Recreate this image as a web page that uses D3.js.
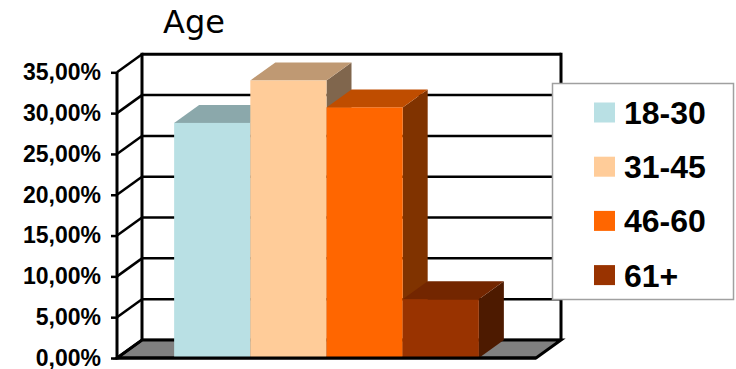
<!DOCTYPE html>
<html>
<head>
<meta charset="utf-8">
<script src="https://cdn.jsdelivr.net/npm/d3@7"></script>
<style>
  html, body { margin: 0; padding: 0; background: #fff; }
  svg { display: block; }
</style>
</head>
<body>
<svg id="chart" width="736" height="369"></svg>
<script>
// Age distribution of respondents (share of total, %)
const categories = ["18-30", "31-45", "46-60", "61+"];
const shares = [28.8, 34.0, 30.7, 7.2];
const tickValues = [0, 5, 10, 15, 20, 25, 30, 35];
const tickLabels = ["0,00%", "5,00%", "10,00%", "15,00%", "20,00%", "25,00%", "30,00%", "35,00%"];
const frontColors = ["#B9E0E4", "#FFCC99", "#FF6600", "#993300"];

const svg = d3.select("#chart");

// plot box (front plane) and depth offset of the 3D box
const plotLeft = 117, plotRight = 536, plotTop = 72.3, plotBottom = 358;
const depth = { dx: 25, dy: -18 };

const y = d3.scaleLinear().domain([0, 35]).range([plotBottom, plotTop]);
const x = d3.scaleBand().domain(categories).range([plotLeft, plotRight])
  .paddingInner(0).paddingOuter(0.75);

const shade = (c, k) => {
  const rgb = d3.rgb(c);
  return d3.rgb(rgb.r * k, rgb.g * k, rgb.b * k).formatHex();
};
const pts = arr => arr.map(p => p.join(",")).join(" ");

// back wall gridlines
const back = svg.append("g");
back.selectAll("line.grid").data(tickValues).join("line")
  .attr("x1", plotLeft + depth.dx).attr("x2", plotRight + depth.dx)
  .attr("y1", d => y(d) + depth.dy).attr("y2", d => y(d) + depth.dy)
  .attr("stroke", "#000").attr("stroke-width", d => d === 35 ? 3 : 2.5);
// back wall right edge
back.append("line")
  .attr("x1", plotRight + depth.dx).attr("x2", plotRight + depth.dx)
  .attr("y1", y(35) + depth.dy - 1.5).attr("y2", y(0) + depth.dy)
  .attr("stroke", "#000").attr("stroke-width", 3);
// back wall left edge
back.append("line")
  .attr("x1", plotLeft + depth.dx).attr("x2", plotLeft + depth.dx)
  .attr("y1", y(35) + depth.dy - 1.5).attr("y2", y(0) + depth.dy)
  .attr("stroke", "#000").attr("stroke-width", 3);

// floor
svg.append("polygon")
  .attr("points", pts([
    [plotLeft, y(0)], [plotLeft + depth.dx, y(0) + depth.dy],
    [plotRight + depth.dx, y(0) + depth.dy], [plotRight, y(0)]
  ]))
  .attr("fill", "#808080").attr("stroke", "#000").attr("stroke-width", 3)
  .attr("stroke-linejoin", "miter");

// side wall diagonals at each tick
svg.append("g").selectAll("line").data(tickValues).join("line")
  .attr("x1", plotLeft).attr("y1", d => y(d))
  .attr("x2", plotLeft + depth.dx).attr("y2", d => y(d) + depth.dy)
  .attr("stroke", "#000").attr("stroke-width", 2.5);

// bars: side, top, front
const bars = svg.append("g").selectAll("g").data(categories).join("g");
bars.each(function (c, i) {
  const g = d3.select(this);
  const x0 = x(c), x1 = x(c) + x.bandwidth();
  const yt = y(shares[i]), yb = y(0);
  const col = frontColors[i];
  g.append("polygon")
    .attr("points", pts([[x1, yt], [x1 + depth.dx, yt + depth.dy], [x1 + depth.dx, yb + depth.dy], [x1, yb]]))
    .attr("fill", shade(col, 0.5));
  g.append("polygon")
    .attr("points", pts([[x0, yt], [x0 + depth.dx, yt + depth.dy], [x1 + depth.dx, yt + depth.dy], [x1, yt]]))
    .attr("fill", shade(col, 0.75));
  g.append("rect")
    .attr("x", x0).attr("y", yt).attr("width", x1 - x0).attr("height", yb - yt)
    .attr("fill", col);
});

// front baseline and value axis
svg.append("line")
  .attr("x1", plotLeft).attr("x2", plotRight).attr("y1", y(0)).attr("y2", y(0))
  .attr("stroke", "#000").attr("stroke-width", 3);

const axis = d3.axisLeft(y).tickValues(tickValues)
  .tickFormat((d, i) => tickLabels[i]).tickSize(6).tickPadding(10);
const axisG = svg.append("g").attr("transform", `translate(${plotLeft},0)`).call(axis);
axisG.select(".domain").attr("stroke", "#000").attr("stroke-width", 3)
  .attr("d", `M0,${y(35)}V${y(0) + 1.5}`);
axisG.selectAll(".tick line").attr("stroke", "#000").attr("stroke-width", 2.5);
axisG.selectAll(".tick text")
  .attr("font-family", "'Liberation Sans', Arial, sans-serif")
  .attr("font-weight", "bold").attr("font-size", 23).attr("fill", "#000");

// title
svg.append("text").attr("x", 163).attr("y", 33)
  .attr("font-family", "'DejaVu Sans', Verdana, sans-serif")
  .attr("font-size", 32).attr("fill", "#000").text("Age");

// legend
const legend = svg.append("g");
legend.append("rect").attr("x", 552.5).attr("y", 83.5).attr("width", 181).attr("height", 216)
  .attr("fill", "#fff").attr("stroke", "#A0A0A0").attr("stroke-width", 1.5);
const rows = legend.selectAll("g.row").data(categories).join("g")
  .attr("transform", (d, i) => `translate(594,${112.5 + i * 54.2})`);
rows.append("rect").attr("x", 0).attr("y", -10).attr("width", 21).attr("height", 20)
  .attr("fill", (d, i) => frontColors[i]);
rows.append("text").attr("x", 30).attr("y", 11.5)
  .attr("font-family", "'Liberation Sans', Arial, sans-serif")
  .attr("font-weight", "bold").attr("font-size", 32).attr("fill", "#000")
  .text(d => d);
</script>
</body>
</html>
